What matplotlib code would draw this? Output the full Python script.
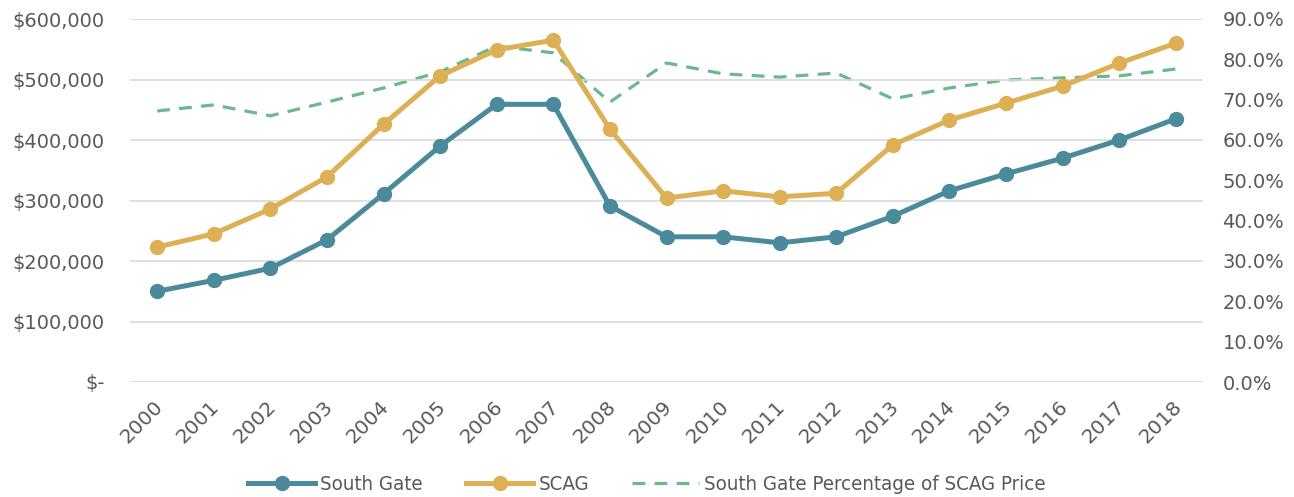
import matplotlib
matplotlib.use("Agg")
import matplotlib.pyplot as plt
from matplotlib.ticker import FuncFormatter, MultipleLocator
from matplotlib.transforms import ScaledTranslation

years = [str(y) for y in range(2000, 2019)]
south_gate = [150000, 168000, 188000, 235000, 311000, 390000, 459000, 459000, 291000,
              240000, 240000, 230000, 240000, 274000, 316000, 344000, 370000, 400000, 435000]
scag = [223000, 245000, 286000, 339000, 426000, 506000, 549000, 565000, 418000,
        304000, 316000, 306000, 312000, 392000, 433000, 461000, 489000, 527000, 560000]
pct = [0.672, 0.687, 0.660, 0.694, 0.729, 0.769, 0.833, 0.816, 0.694,
       0.791, 0.764, 0.756, 0.766, 0.702, 0.729, 0.749, 0.754, 0.759, 0.776]

TEAL = "#4A8A9A"
GOLD = "#DDB055"
GREEN = "#6DB88A"
TXT = "#595959"
GRID = "#D9D9D9"

plt.rcParams['font.family'] = ['DejaVu Sans']

fig = plt.figure(figsize=(12.94, 4.97), dpi=100)
ax = fig.add_axes([130/1294, 1-382/497, (1203-130)/1294, (382-19)/497])
ax2 = ax.twinx()

x = list(range(len(years)))
l1, = ax.plot(x, south_gate, color=TEAL, lw=3.6, marker='o', ms=10, label='South Gate', zorder=3)
l2, = ax.plot(x, scag, color=GOLD, lw=3.6, marker='o', ms=10, label='SCAG', zorder=3)
l3, = ax2.plot(x, pct, color=GREEN, lw=2.3, ls=(0, (4, 2.9)), label='South Gate Percentage of SCAG Price')

ax.set_xlim(-0.48, len(years) - 0.52)
ax.set_ylim(0, 600000)
ax2.set_ylim(0, 0.9)
ax.yaxis.set_major_locator(MultipleLocator(100000))
ax2.yaxis.set_major_locator(MultipleLocator(0.1))
ax.yaxis.set_major_formatter(FuncFormatter(lambda v, p: "$-" if v == 0 else f"${v:,.0f}"))
ax2.yaxis.set_major_formatter(FuncFormatter(lambda v, p: f"{v*100:.1f}%"))
ax.set_xticks(x)
ax.set_xticklabels(years, rotation=45, ha='right', rotation_mode='anchor')

ax.grid(axis='y', color=GRID, lw=1.2)
ax.set_axisbelow(True)
for a in (ax, ax2):
    for s in a.spines.values():
        s.set_visible(False)
    a.tick_params(length=0, colors=TXT, labelsize=14)
ax.tick_params(axis='y', pad=18)
ax2.tick_params(axis='y', pad=14)
ax.tick_params(axis='x', pad=11, labelsize=14.5)
off = ScaledTranslation(-4/100, 0, fig.dpi_scale_trans)
for lbl in ax.get_xticklabels():
    lbl.set_transform(lbl.get_transform() + off)
ax.set_zorder(ax2.get_zorder() + 1)
ax.patch.set_visible(False)

leg = fig.legend(handles=[l1, l2, l3], loc='center', bbox_to_anchor=(0.5, 1-485/497), ncol=3,
                 frameon=False, prop={'family': 'DejaVu Sans', 'stretch': 'condensed', 'size': 14.7},
                 handlelength=3.3, columnspacing=2.1, handletextpad=0.25)
for t in leg.get_texts():
    t.set_color(TXT)

fig.savefig("out.png", dpi=100)
